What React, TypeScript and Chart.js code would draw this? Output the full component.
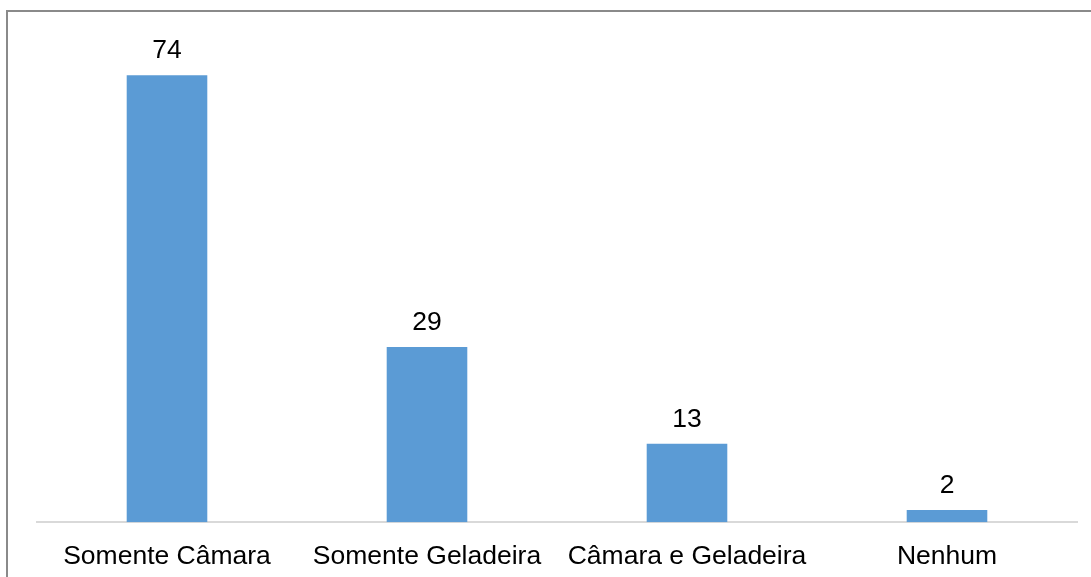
import React, { useEffect, useRef } from "react";
import { Chart, registerables } from "chart.js";

Chart.register(...registerables);

const categories: string[] = ["Somente Câmara", "Somente Geladeira", "Câmara e Geladeira", "Nenhum"];
const values: number[] = [74, 29, 13, 2];

const FONT = "'Liberation Sans', Arial, sans-serif";

const dataLabelPlugin = {
  id: "dataLabels",
  afterDatasetsDraw(chart: any) {
    const ctx = chart.ctx;
    const meta = chart.getDatasetMeta(0);
    ctx.save();
    ctx.fillStyle = "#000000";
    ctx.font = `26.5px ${FONT}`;
    ctx.textAlign = "center";
    ctx.textBaseline = "alphabetic";
    meta.data.forEach((bar: any, i: number) => {
      ctx.fillText(String(values[i]), bar.x, bar.y - 17);
    });
    ctx.restore();
  },
};

export default function App() {
  const canvasRef = useRef<HTMLCanvasElement | null>(null);

  useEffect(() => {
    if (!canvasRef.current) return;
    const chart = new Chart(canvasRef.current, {
      type: "bar",
      data: {
        labels: categories,
        datasets: [
          {
            data: values,
            backgroundColor: "#5B9BD5",
            borderWidth: 0,
            categoryPercentage: 1,
            barPercentage: 0.31,
          },
        ],
      },
      options: {
        animation: false,
        responsive: false,
        maintainAspectRatio: false,
        layout: { padding: { left: 29, right: 14, top: 27, bottom: -15 } },
        plugins: {
          legend: { display: false },
          tooltip: { enabled: false },
          title: { display: false },
        },
        scales: {
          x: {
            grid: { display: false, drawTicks: false },
            border: { display: true, color: "#d9d9d9", width: 2 },
            ticks: {
              color: "#000000",
              font: { family: FONT, size: 26.5 },
              padding: 19,
              maxRotation: 0,
              autoSkip: false,
            },
          },
          y: {
            display: false,
            min: 0,
            max: 80,
          },
        },
      },
      plugins: [dataLabelPlugin],
    });
    return () => chart.destroy();
  }, []);

  return (
    <div
      style={{
        position: "absolute",
        left: 6,
        top: 10,
        width: 1085,
        height: 567,
        borderTop: "2px solid #8a8a8a",
        borderLeft: "2px solid #8a8a8a",
        boxSizing: "border-box",
        background: "#ffffff",
      }}
    >
      <canvas ref={canvasRef} width={1083} height={565} style={{ display: "block" }} />
    </div>
  );
}
